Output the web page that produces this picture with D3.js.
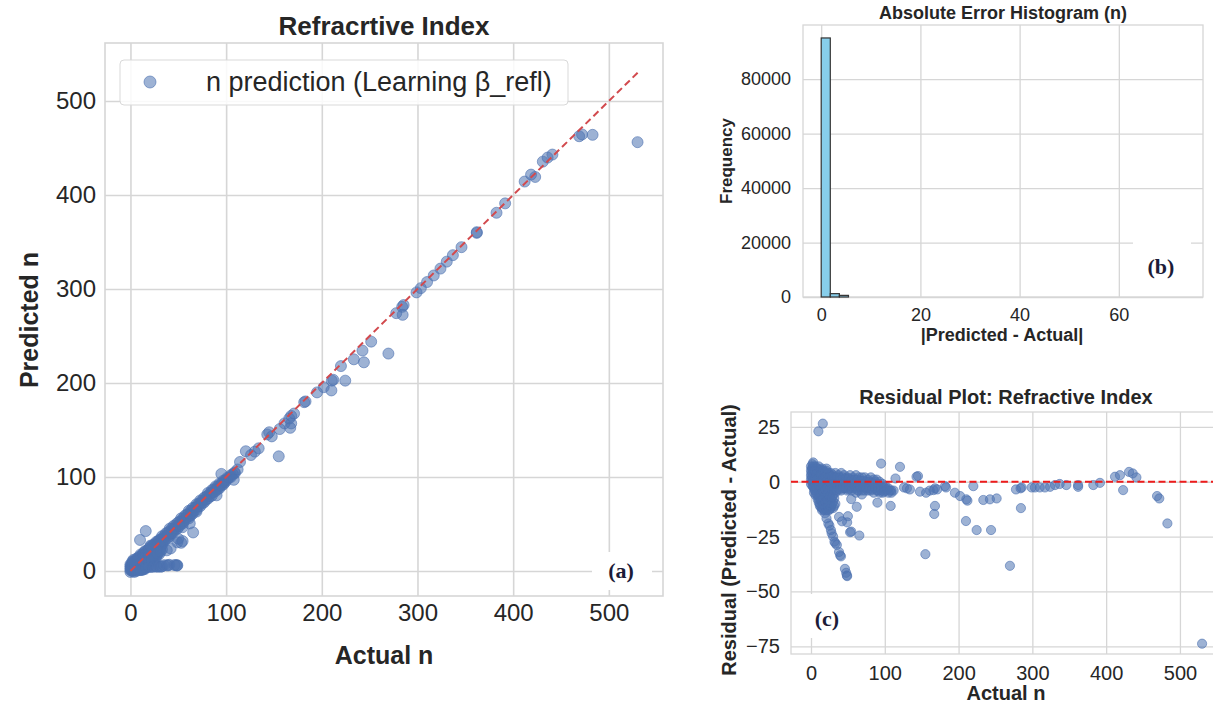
<!DOCTYPE html>
<html>
<head>
<meta charset="utf-8">
<script src="https://cdn.jsdelivr.net/npm/d3@7"></script>
<style>
body { margin: 0; background: #fff; }
svg text { font-family: "Liberation Sans", Arial, sans-serif; fill: #262626; }
</style>
</head>
<body>
<div id="fig"></div>
<script>
// scatter points: [actual n, residual (predicted - actual)]
const coreBand = [
    [0, 7], [0, 5], [0, 3], [0, 1], [0, -1],
    [2, 8], [2, 6], [2, 4], [2, 2], [2, 0], [2, -2],
    [4, 6], [4, 3], [4, 0], [4, -3], [4, -5],
    [6, 7], [6, 5], [6, 2], [6, -1], [6, -4], [6, -6],
    [9, 6], [9, 3], [9, 0], [9, -3], [9, -6], [9, -8],
    [12, 5], [12, 2], [12, -1], [12, -4], [12, -7], [12, -10], [12, -11],
    [15, 6], [15, 3], [15, 0], [15, -3], [15, -6], [15, -9], [15, -12], [15, -13],
    [18, 4], [18, 1], [18, -2], [18, -5], [18, -8], [18, -11], [18, -13],
    [21, 5], [21, 2], [21, -1], [21, -4], [21, -7], [21, -10], [21, -13],
    [24, 4], [24, 1], [24, -2], [24, -5], [24, -8], [24, -11], [24, -13],
    [27, 4], [27, 1], [27, -2], [27, -5], [27, -8], [27, -11], [27, -12],
    [30, 3], [30, 0], [30, -3], [30, -6], [30, -9], [30, -12],
    [33, 4], [33, 1], [33, -2], [33, -5], [33, -10],
    [37, 3], [37, 0], [37, -3],
    [41, 4], [41, 1], [41, -2], [41, -4],
    [45, 3], [45, 0], [45, -3],
    [49, 2], [49, -1], [49, -4],
    [53, 3], [53, 0], [53, -3],
    [57, 2], [57, -1], [57, -3],
    [61, 3], [61, 0], [61, -3], [61, -5],
    [65, 2], [65, -1], [65, -4],
    [69, 2], [69, -1], [69, -4],
    [73, 2], [73, -1], [73, -4],
    [77, 1], [77, -2], [77, -4],
    [81, 2], [81, -1], [81, -4],
    [85, 1], [85, -2], [85, -5],
    [89, 1], [89, -2], [89, -4],
    [93, 0], [93, -3], [93, -5],
    [97, -1], [97, -3], [97, -5],
    [101, -2], [101, -4],
    [105, -3], [105, -5],
    [109, -4], [109, -5],
    [112, -4]
];

// second, offset layer of the same dense cloud
const coreFill = [
    [1, 6], [1, 4], [1, 2], [1, 0],
    [3, 7], [3, 5], [3, 1], [3, -2],
    [5, 5], [5, 1], [5, -2], [5, -4],
    [7.5, 6], [7.5, 3.5], [7.5, 0.5], [7.5, -2.5], [7.5, -5.5],
    [10.5, 7], [10.5, 4.5], [10.5, 1.5], [10.5, -1.5], [10.5, -4.5], [10.5, -7.5], [10.5, -9.5],
    [13.5, 5.5], [13.5, 3.5], [13.5, 0.5], [13.5, -2.5], [13.5, -5.5], [13.5, -8.5], [13.5, -11.5],
    [16.5, 5], [16.5, 1.5], [16.5, -1.5], [16.5, -4.5], [16.5, -7.5], [16.5, -10.5], [16.5, -12.5],
    [19.5, 4.5], [19.5, 2.5], [19.5, -0.5], [19.5, -3.5], [19.5, -6.5], [19.5, -9.5], [19.5, -12],
    [22.5, 3.5], [22.5, 0.5], [22.5, -2.5], [22.5, -5.5], [22.5, -8.5], [22.5, -11.5],
    [25.5, 3], [25.5, 0], [25.5, -3.5], [25.5, -6.5], [25.5, -9.5], [25.5, -12.5],
    [28.5, 2.5], [28.5, -0.5], [28.5, -3.5], [28.5, -7], [28.5, -10],
    [31.5, 2], [31.5, -1], [31.5, -4], [31.5, -7.5], [31.5, -11],
    [35, 2], [35, -1], [35, -4],
    [39, 2], [39, -1], [39, -3.5],
    [43, 2], [43, -1], [43, -3],
    [47, 1.5], [47, -1.5], [47, -3],
    [51, 1.5], [51, -1.5], [51, -3.5],
    [55, 1], [55, -2], [55, -4],
    [59, 1], [59, -2],
    [63, 1], [63, -2], [63, -4],
    [67, 0.5], [67, -2.5],
    [71, 0.5], [71, -2.5],
    [75, 0], [75, -3],
    [79, 0], [79, -3],
    [83, -0.5], [83, -3.5],
    [87, 0], [87, -3],
    [91, -1], [91, -4],
    [95, -2], [95, -4],
    [99, -2.5], [99, -4.5],
    [103, -3.5],
    [107, -4]
];

const lowBranch = [
    [19, -14.4], [21, -16.7], [23.5, -19], [25, -20], [27, -22], [28, -23.5],
    [30, -25], [31.8, -27.3], [33, -28], [35, -28.8], [38, -32], [39.5, -33.5],
    [40.6, -34], [46, -39.7], [47.7, -41.5], [48.6, -42.7], [49, -43]
];

const strayPoints = [
    [10, 23], [16, 26.5], [3, 8.8], [21, 6], [38, -16], [42, -18], [50, -15.7],
    [49, -18.5], [53, -23], [54.5, -22.7], [54.5, -7.9], [62, -11.4],
    [65.5, -24.5], [69, -5.8], [90, -9.5], [108, -11]
];

const upperPoints = [
    [95, 8.3], [114.5, 1.5], [120.6, 6.8], [126, -2.6], [130, -3], [134, -3.5],
    [143, 2.3], [145, 2.6], [147.7, -4.5], [155, -33], [156, -5], [161, -4],
    [166, -3.8], [168, -3], [171, -3.5], [168, -11], [167, -14.7], [181.6, -2],
    [183, -2.6], [195, -5], [202, -6.5], [210.5, -8], [212, -8.6], [210, -17.9],
    [220, -2], [224.5, -22], [233.5, -8.3], [242.5, -8], [251.6, -7.6], [244, -22],
    [269.6, -38.3], [277.8, -3.5], [284, -3], [285.5, -2.6], [284.5, -12],
    [299, -2.6], [303.5, -2.6], [310, -2.6], [317, -2.6], [324, -2.3], [330.6, -1.5],
    [337, -1], [346, -1.5], [362, -2.3], [362, -1.5], [382.6, -1.5], [391.6, -0.5],
    [412, 2.3], [418.7, 3], [423, -3.8], [431, 4.5], [436, 3.8], [441, 2],
    [469, -6.5], [472, -7.6], [483, -19], [530, -73.8]
];

const idealLine = [0, 531];

// absolute error histogram, 40 equal bins over [0, histErrMax]
const histErrMax = 73.3;
const histCounts = [95130, 1230, 600, 0, 0, 0, 0, 0, 0, 0,
    0, 0, 0, 0, 0, 0, 0, 0, 0, 0,
    0, 0, 0, 0, 0, 0, 0, 0, 0, 0,
    0, 0, 0, 0, 0, 0, 0, 0, 0, 0];

const nTicks = [0, 100, 200, 300, 400, 500];
const histXTicks = [0, 20, 40, 60];
const histYTicks = [0, 20000, 40000, 60000, 80000];
const residTicks = [-75, -50, -25, 0, 25];

const W = 1213, H = 705;
const gridColor = '#d6d6d6';
const dotColor = '#4c72b0';

const svg = d3.select('#fig').append('svg')
    .attr('width', W)
    .attr('height', H);

const allPoints = coreBand.concat(coreFill, lowBranch, strayPoints, upperPoints);

function drawFrame(g, x, y, xt, yt, b, opt) {
    const w = b.right - b.left, h = b.bottom - b.top;

    g.append('g')
        .attr('transform', `translate(0,${b.bottom})`)
        .call(d3.axisBottom(x).tickValues(xt).tickSize(-h).tickFormat(''))
        .call(s => s.select('.domain').remove())
        .call(s => s.selectAll('line').attr('stroke', gridColor).attr('stroke-width', opt.gw));

    g.append('g')
        .attr('transform', `translate(${b.left},0)`)
        .call(d3.axisLeft(y).tickValues(yt).tickSize(-w).tickFormat(''))
        .call(s => s.select('.domain').remove())
        .call(s => s.selectAll('line').attr('stroke', gridColor).attr('stroke-width', opt.gw));

    g.append('rect')
        .attr('x', b.left).attr('y', b.top)
        .attr('width', w).attr('height', h)
        .attr('fill', 'none')
        .attr('stroke', gridColor)
        .attr('stroke-width', opt.gw);

    g.append('g')
        .attr('transform', `translate(0,${b.bottom})`)
        .call(d3.axisBottom(x).tickValues(xt).tickSize(0).tickPadding(opt.xpad).tickFormat(d3.format('d')))
        .call(s => s.select('.domain').remove())
        .call(s => s.selectAll('text').style('font-size', opt.fs + 'px').attr('fill', '#262626'));

    g.append('g')
        .attr('transform', `translate(${b.left},0)`)
        .call(d3.axisLeft(y).tickValues(yt).tickSize(0).tickPadding(opt.ypad).tickFormat(d3.format('d')))
        .call(s => s.select('.domain').remove())
        .call(s => s.selectAll('text').style('font-size', opt.fs + 'px').attr('fill', '#262626'));
}

function addText(g, txt, x, y, size, rot) {
    const t = g.append('text')
        .attr('text-anchor', 'middle')
        .attr('font-weight', 'bold')
        .style('font-size', size + 'px')
        .text(txt);
    if (rot) t.attr('transform', `translate(${x},${y}) rotate(-90)`);
    else t.attr('x', x).attr('y', y);
}

function panelTag(g, txt, r, tx, ty) {
    g.append('rect')
        .attr('x', r[0]).attr('y', r[1]).attr('width', r[2]).attr('height', r[3])
        .attr('fill', '#fff');
    g.append('text')
        .attr('x', tx).attr('y', ty)
        .attr('text-anchor', 'middle')
        .attr('font-weight', 'bold')
        .style('font-family', '"Liberation Serif", "Times New Roman", serif')
        .style('font-size', '22px')
        .style('fill', '#1c1c38')
        .text(txt);
}

function drawDots(g, data, fx, fy, r, clipId) {
    g.append('g').attr('clip-path', `url(#${clipId})`)
        .selectAll('circle')
        .data(data)
        .join('circle')
        .attr('cx', fx)
        .attr('cy', fy)
        .attr('r', r)
        .attr('fill', dotColor)
        .attr('fill-opacity', 0.55)
        .attr('stroke', dotColor)
        .attr('stroke-opacity', 0.6)
        .attr('stroke-width', 1);
}

// ---- (a) predicted vs actual ----
const boxA = { left: 105, right: 663, top: 43, bottom: 596 };
const ax = d3.scaleLinear().domain([-26.6, 556.6]).range([boxA.left, boxA.right]);
const ay = d3.scaleLinear().domain([-26.6, 561.7]).range([boxA.bottom, boxA.top]);
const gA = svg.append('g');
drawFrame(gA, ax, ay, nTicks, nTicks, boxA, { gw: 1.6, fs: 24, xpad: 8, ypad: 9 });

svg.append('clipPath').attr('id', 'clipA').append('rect')
    .attr('x', boxA.left).attr('y', boxA.top)
    .attr('width', boxA.right - boxA.left).attr('height', boxA.bottom - boxA.top);

drawDots(gA, allPoints, d => ax(d[0]), d => ay(d[0] + d[1]), 5.5, 'clipA');

gA.append('line')
    .attr('x1', ax(idealLine[0])).attr('y1', ay(idealLine[0]))
    .attr('x2', ax(idealLine[1])).attr('y2', ay(idealLine[1]))
    .attr('stroke', '#d24a4e')
    .attr('stroke-width', 2)
    .attr('stroke-dasharray', '7,4');

// legend
gA.append('rect')
    .attr('x', 120).attr('y', 60).attr('width', 448).attr('height', 45)
    .attr('rx', 4)
    .attr('fill', '#fff').attr('fill-opacity', 0.85)
    .attr('stroke', '#d9d9d9');
gA.append('circle')
    .attr('cx', 150).attr('cy', 82).attr('r', 6)
    .attr('fill', dotColor).attr('fill-opacity', 0.55)
    .attr('stroke', dotColor).attr('stroke-opacity', 0.6);
gA.append('text')
    .attr('x', 206).attr('y', 91)
    .style('font-size', '27px')
    .text('n prediction (Learning β_refl)');

addText(gA, 'Refracrtive Index', 384, 35, 26);
addText(gA, 'Actual n', 384, 664, 25);
addText(gA, 'Predicted n', 38, 320, 25, true);
panelTag(gA, '(a)', [592, 552, 60, 38], 621, 578);

// ---- (b) absolute error histogram ----
const boxB = { left: 803, right: 1203, top: 25, bottom: 297 };
const bx = d3.scaleLinear().domain([-3.67, 76.97]).range([boxB.left, boxB.right]);
const by = d3.scaleLinear().domain([0, 99890]).range([boxB.bottom, boxB.top]);
const gB = svg.append('g');
drawFrame(gB, bx, by, histXTicks, histYTicks, boxB, { gw: 1.3, fs: 18, xpad: 11, ypad: 12 });

const binW = histErrMax / histCounts.length;
const bins = histCounts.map((c, i) => ({ x0: i * binW, x1: (i + 1) * binW, c }))
    .filter(d => d.c > 0);

gB.append('g')
    .selectAll('rect')
    .data(bins)
    .join('rect')
    .attr('x', d => bx(d.x0))
    .attr('y', d => by(d.c))
    .attr('width', d => bx(d.x1) - bx(d.x0))
    .attr('height', d => by(0) - by(d.c))
    .attr('fill', '#87ceeb')
    .attr('stroke', '#333')
    .attr('stroke-width', 1.2);

addText(gB, 'Absolute Error Histogram (n)', 1003, 19, 18);
addText(gB, '|Predicted - Actual|', 1002, 341, 18);
addText(gB, 'Frequency', 732, 161, 17, true);
panelTag(gB, '(b)', [1133, 240, 58, 46], 1161, 274);

// ---- (c) residual plot ----
const boxC = { left: 791, right: 1222, top: 412, bottom: 654 };
const cx = d3.scaleLinear().domain([-27.1, 557]).range([boxC.left, boxC.right]);
const cy = d3.scaleLinear().domain([-78.5, 31.8]).range([boxC.bottom, boxC.top]);
const gC = svg.append('g');
drawFrame(gC, cx, cy, nTicks, residTicks, boxC, { gw: 1.3, fs: 20, xpad: 12, ypad: 11 });

svg.append('clipPath').attr('id', 'clipC').append('rect')
    .attr('x', boxC.left).attr('y', boxC.top)
    .attr('width', boxC.right - boxC.left).attr('height', boxC.bottom - boxC.top);

drawDots(gC, allPoints, d => cx(d[0]), d => cy(d[1]), 4.6, 'clipC');

gC.append('line')
    .attr('x1', boxC.left).attr('x2', boxC.right)
    .attr('y1', cy(0)).attr('y2', cy(0))
    .attr('stroke', '#ee1c1c')
    .attr('stroke-width', 2.2)
    .attr('stroke-dasharray', '7,3.5');

addText(gC, 'Residual Plot: Refractive Index', 1006, 404, 20);
addText(gC, 'Actual n', 1006, 700, 20);
addText(gC, 'Residual (Predicted - Actual)', 736, 540, 20, true);
panelTag(gC, '(c)', [805, 594, 45, 44], 827, 626);
</script>
</body>
</html>
